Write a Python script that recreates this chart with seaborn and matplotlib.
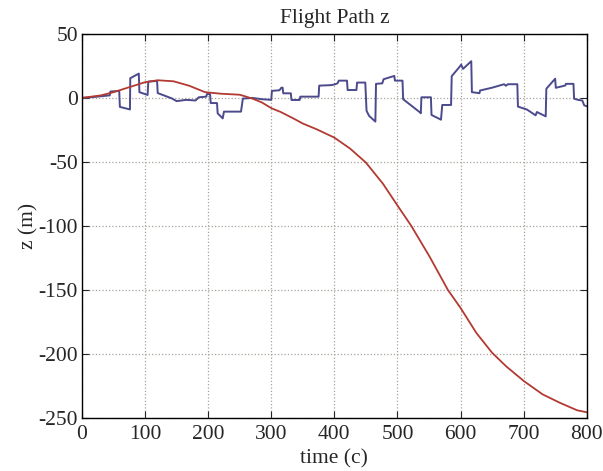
import numpy as np
import pandas as pd
import seaborn as sns
import matplotlib.pyplot as plt

# Reference path (smooth red curve)
ref_t = [0, 30, 50, 75, 100, 120, 145, 170, 195, 220, 250, 270, 285, 300, 315, 335,
         350, 372, 400, 425, 450, 477, 500, 522, 551, 580, 600, 625, 650, 672, 700,
         730, 757, 785, 800]
ref_z = [0, 2, 4.5, 8.4, 12.3, 13.8, 13, 9.5, 4.5, 3.3, 2.5, -0.5, -3.5, -8, -11, -16,
         -20, -24.5, -31, -39.6, -50.5, -67, -84, -100, -124, -150, -164, -183.5, -199,
         -209.5, -221, -231.5, -238, -244, -245.5]

# Flight path (step-like blue line)
fp_t = [0, 20, 44, 45, 59, 60, 76, 76.5, 90, 91, 104, 105, 119, 120, 142, 150, 165,
        180, 185, 197, 198, 203, 204, 214, 215, 223, 225, 252, 255, 270, 285, 300,
        301, 313, 316, 318, 319, 331, 332, 345, 346, 375, 376, 395, 400, 405, 407,
        420, 421, 435, 436, 449, 451, 455, 465, 466, 476, 478, 495, 496, 508, 509,
        535, 537, 538, 553, 554, 569, 571, 585, 586, 598, 601, 604, 617, 618, 630,
        631, 650, 669, 672, 675, 690, 691, 705, 719, 721, 735, 736, 750, 751, 766,
        767, 779, 780, 787, 793, 796, 800]
fp_z = [0, 0.8, 2, 5, 5.5, -7, -9, 15.4, 19, 4.5, 2.3, 12.7, 13.3, 3.8, -0.3, -2.5, -1.5,
        -2, 0.5, 1, 3, 3, -4, -4, -12, -16, -10.7, -10.7, -0.5, 0, -1, -1.5,
        5.5, 6, 8, 8, 3.6, 3.6, -1.6, -1.6, 1, 1, 9.6, 10, 10.5, 11.4, 13.5,
        13.5, 6.2, 6.2, 12, 12, -10, -14, -18.5, 11, 11.4, 14.6, 17.2, 13.5, 13.5, -1,
        -11, -12, 0.5, 0.5, -13.3, -17, -5.5, -5.5, 17, 24, 26, 22.7, 28.7, 4.5, 3.7,
        5.8, 8, 10.7, 9.5, 10.7, 10.7, -6.8, -9, -13.6, -11, -14.4, 7.2, 15, 7.9, 9.7,
        11, 11, -0.6, -1.6, -2, -5.8, -6.5]

xticks = [0, 100, 200, 300, 400, 500, 600, 700, 800]
yticks = [-250, -200, -150, -100, -50, 0, 50]

sns.set_style("ticks")
plt.rcParams['font.family'] = ['Liberation Serif', 'DejaVu Serif']
plt.rcParams['axes.unicode_minus'] = False

df_fp = pd.DataFrame({'t': fp_t, 'z': fp_z})
df_ref = pd.DataFrame({'t': ref_t, 'z': ref_z})

fig = plt.figure(figsize=(6.03, 4.71), dpi=100)
ax = fig.add_axes([0.136, 0.1125, 0.837, 0.8155])

sns.lineplot(data=df_fp, x='t', y='z', sort=False, estimator=None, color='#4b4a8c', linewidth=1.4, ax=ax)
sns.lineplot(data=df_ref, x='t', y='z', sort=False, estimator=None, color='#b23a32', linewidth=1.3, ax=ax)

ax.set_xlim(0, 800)
ax.set_ylim(-250, 50)
ax.set_xticks(xticks)
ax.set_yticks(yticks)
ax.grid(True, linestyle=':', color='#a8a29a', linewidth=0.9)
ax.tick_params(direction='in', top=True, right=True, labelsize=15.5, length=5)
ax.tick_params(axis='x', pad=5)
ax.tick_params(axis='y', pad=3)
for s in ax.spines.values():
    s.set_color('black')
    s.set_linewidth(1.0)

ax.set_title('Flight Path z', fontsize=15.5, pad=8)
ax.set_xlabel('time (c)', fontsize=15.5, labelpad=4)
ax.set_ylabel('z (m)', fontsize=15.5, labelpad=0)

fig.savefig('out.png', dpi=100)
